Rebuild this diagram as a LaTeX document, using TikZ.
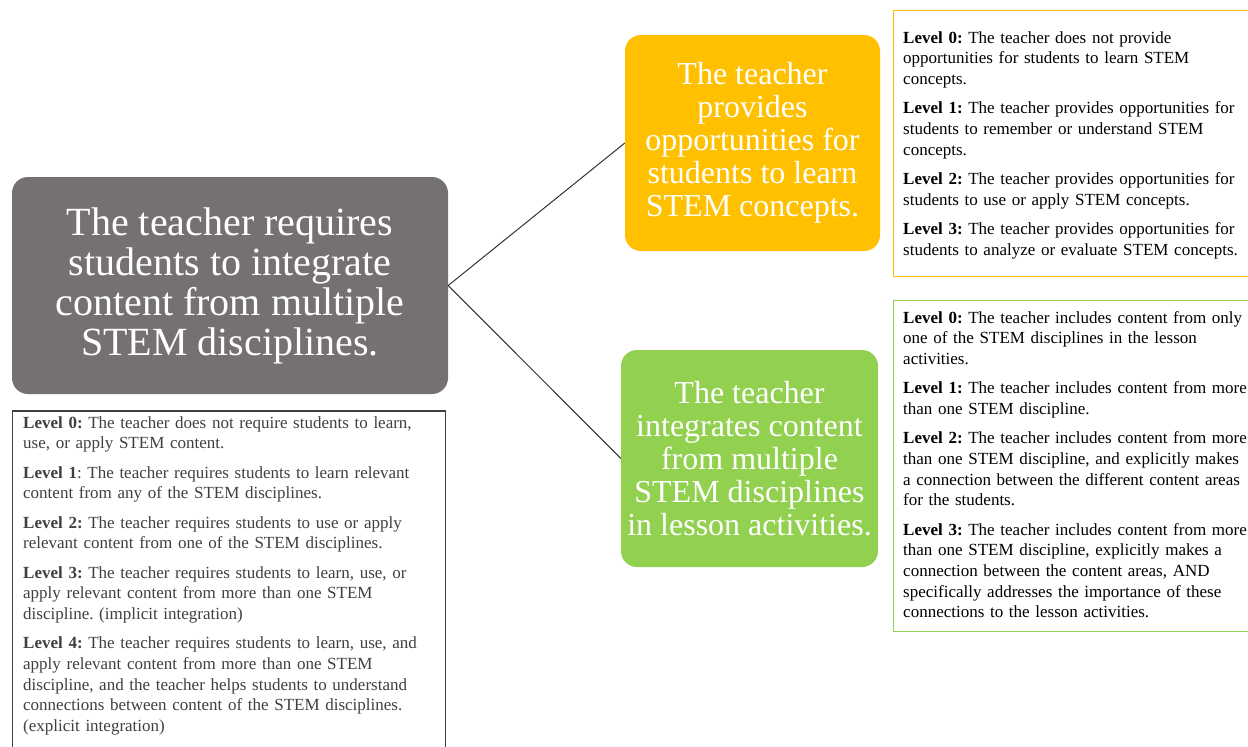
\documentclass[tikz,border=0pt]{standalone}
\usepackage{fontspec}
\setmainfont{Liberation Serif}
\frenchspacing
\usetikzlibrary{positioning}

\definecolor{stemgray}{HTML}{767171}
\definecolor{stemgold}{HTML}{FFC000}
\definecolor{stemgreen}{HTML}{92D050}
\definecolor{leveltext}{HTML}{3F3F3F}

\begin{document}
\begin{tikzpicture}[x=1pt, y=-1pt,
    topic/.style={rounded corners=16pt, text=white, align=center, inner sep=0pt},
    bigtopic/.style={topic, font=\fontsize{40}{40}\selectfont},
    subtopic/.style={topic, font=\fontsize{32}{33}\selectfont},
    levelbox/.style={draw, line width=1.3pt, inner sep=0pt, anchor=north west},
    levels/.style={anchor=base west, inner sep=0pt, align=left, text width=360pt,
        font=\fontsize{17}{20.7}\selectfont}]
\useasboundingbox (0,0) rectangle (1248,747);
\clip (0,0) rectangle (1248,747);

\node[bigtopic, fill=stemgray, minimum width=436pt, minimum height=217pt] (integrate) at (230,285.5)
    {The teacher requires\\ students to integrate\\ content from multiple\\ STEM disciplines.};
\node[subtopic, fill=stemgold, minimum width=255pt, minimum height=216pt] (learn) at (752.5,143)
    {The teacher\\ provides\\ opportunities for\\ students to learn\\ STEM concepts.};
\node[subtopic, fill=stemgreen, minimum width=257pt, minimum height=217pt] (multi) at (749.5,458.5)
    {The teacher\\ integrates content\\ from multiple\\ STEM disciplines\\ in lesson activities.};
\draw[line width=1pt, black!80] (integrate.east) -- (learn.west);
\draw[line width=1pt, black!80] (integrate.east) -- (multi.west);

% --- level descriptions
\node[levelbox, draw=black!75, minimum width=433pt, minimum height=350pt,
    below right=16pt and 0pt of integrate.south west] (intlevels) {};
\node[levels, text=leveltext, text width=420pt] (intlist) at (23,428) {%
    \textbf{Level 0:} The teacher does not require students to learn,\\
    use, or apply STEM content.\\[8.6pt]
    \textbf{Level 1}: The teacher requires students to learn relevant\\
    content from any of the STEM disciplines.\\[8.6pt]
    \textbf{Level 2:} The teacher requires students to use or apply\\
    relevant content from one of the STEM disciplines.\\[8.6pt]
    \textbf{Level 3:} The teacher requires students to learn, use, or\\
    apply relevant content from more than one STEM\\
    discipline. (implicit integration)\\[8.6pt]
    \textbf{Level 4:} The teacher requires students to learn, use, and\\
    apply relevant content from more than one STEM\\
    discipline, and the teacher helps students to understand\\
    connections between content of the STEM disciplines.\\
    (explicit integration)};

\node[levelbox, draw=stemgold, minimum width=360pt, minimum height=266pt] (learnlevels) at (893,10) {};
\node[levels] (learnlist) at (903,43) {%
    \textbf{Level 0:} The teacher does not provide\\
    opportunities for students to learn STEM\\
    concepts.\\[8.6pt]
    \textbf{Level 1:} The teacher provides opportunities for\\
    students to remember or understand STEM\\
    concepts.\\[8.6pt]
    \textbf{Level 2:} The teacher provides opportunities for\\
    students to use or apply STEM concepts.\\[8.6pt]
    \textbf{Level 3:} The teacher provides opportunities for\\
    students to analyze or evaluate STEM concepts.};

\node[levelbox, draw=stemgreen, minimum width=360pt, minimum height=331pt] (multilevels) at (893,300) {};
\node[levels] (multilist) at (903,323) {%
    \textbf{Level 0:} The teacher includes content from only\\
    one of the STEM disciplines in the lesson\\
    activities.\\[8.6pt]
    \textbf{Level 1:} The teacher includes content from more\\
    than one STEM discipline.\\[8.6pt]
    \textbf{Level 2:} The teacher includes content from more\\
    than one STEM discipline, and explicitly makes\\
    a connection between the different content areas\\
    for the students.\\[8.6pt]
    \textbf{Level 3:} The teacher includes content from more\\
    than one STEM discipline, explicitly makes a\\
    connection between the content areas, AND\\
    specifically addresses the importance of these\\
    connections to the lesson activities.};
\end{tikzpicture}
\end{document}
